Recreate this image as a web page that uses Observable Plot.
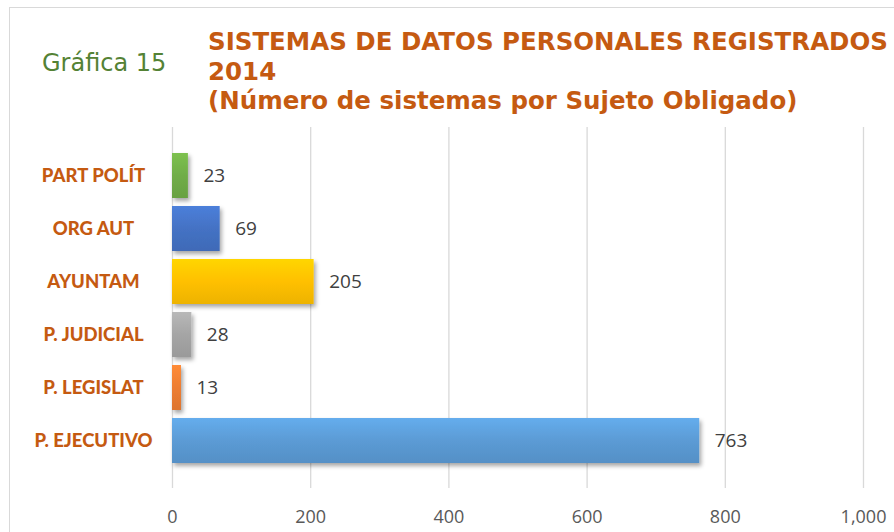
<!DOCTYPE html>
<html><head><meta charset="utf-8">
<script src="https://cdn.jsdelivr.net/npm/d3@7"></script>
<script src="https://cdn.jsdelivr.net/npm/@observablehq/plot@0.6"></script>
<style>
html,body{margin:0;padding:0;background:#fff;width:894px;height:532px;overflow:hidden;}
#wrap{position:relative;width:894px;height:532px;overflow:hidden;}
#frame{position:absolute;left:9px;top:7px;width:1000px;height:1000px;border:1.5px solid #d9d9d9;box-sizing:border-box}
#label{position:absolute;left:42px;top:51px;font:24px/24px "DejaVu Sans";color:#548235;white-space:nowrap}
#title{position:absolute;left:208px;top:27px;font:bold 24.5px/29.5px "DejaVu Sans";color:#C55A11;white-space:nowrap}
#chart{position:absolute;left:0;top:120px}
</style></head><body>
<div id="wrap"><div id="frame"></div><div id="label">Gráfica 15</div>
<div id="title">SISTEMAS DE DATOS PERSONALES REGISTRADOS<br>2014<br>(Número de sistemas por Sujeto Obligado)</div>
<div id="chart"></div></div>
<script>
const categories = ["PART POLÍT","ORG AUT","AYUNTAM","P. JUDICIAL","P. LEGISLAT","P. EJECUTIVO"];
const values = [23,69,205,28,13,763];
const xTicks = [0,200,400,600,800,1000];
const barColors = ["#70AD47","#4472C4","#FFC000","#A5A5A5","#ED7D31","#5B9BD5"];

const data = categories.map((c,i)=>({cat:c, value:values[i]}));
const gradIds = categories.map((c,i)=>`url(#grad${i})`);

const plot = Plot.plot({
  width:894, height:412, marginLeft:172, marginRight:31, marginTop:7, marginBottom:44,
  style:{fontFamily:"Open Sans", background:"transparent", overflow:"visible"},
  x:{domain:[0,1000], label:null},
  y:{domain:categories, padding:0.15, insetTop:17, insetBottom:16, label:null},
  color:{domain:categories, range:gradIds},
  marks:[
    Plot.ruleX(xTicks,{stroke:"#d9d9d9", strokeWidth:1.3}),
    Plot.barX(data,{x:"value", y:"cat", fill:"cat", className:"bars"}),
    Plot.text(data,{x:"value", y:"cat", text:d=>String(d.value), textAnchor:"start", dx:15, fill:"#404040", fontSize:19}),
    Plot.axisX({ticks:xTicks, tickSize:0, tickPadding:22, tickFormat:d3.format(","), fontSize:18, color:"#595959", label:null}),
    Plot.axisY({tickSize:0, tickPadding:79, textAnchor:"middle", fontSize:18.5, fontWeight:900, color:"#C55A11", fontFamily:"Lato", label:null})
  ]
});
document.getElementById("chart").appendChild(plot);

const svg = d3.select(plot);
const defs = svg.insert("defs", ":first-child");
barColors.forEach((c,i)=>{
  const g = defs.append("linearGradient").attr("id","grad"+i).attr("x1",0).attr("x2",0).attr("y1",0).attr("y2",1);
  g.append("stop").attr("offset","0%").attr("stop-color", d3.color(c).brighter(0.3).formatHex());
  g.append("stop").attr("offset","50%").attr("stop-color", c);
  g.append("stop").attr("offset","100%").attr("stop-color", d3.color(c).darker(0.2).formatHex());
});
defs.append("filter").attr("id","shadow").attr("x","-10%").attr("y","-20%").attr("width","130%").attr("height","170%")
  .append("feDropShadow").attr("dx",2).attr("dy",3).attr("stdDeviation",2).attr("flood-color","#000").attr("flood-opacity",0.35);
svg.selectAll(".bars").attr("filter","url(#shadow)");
</script>
</body></html>
